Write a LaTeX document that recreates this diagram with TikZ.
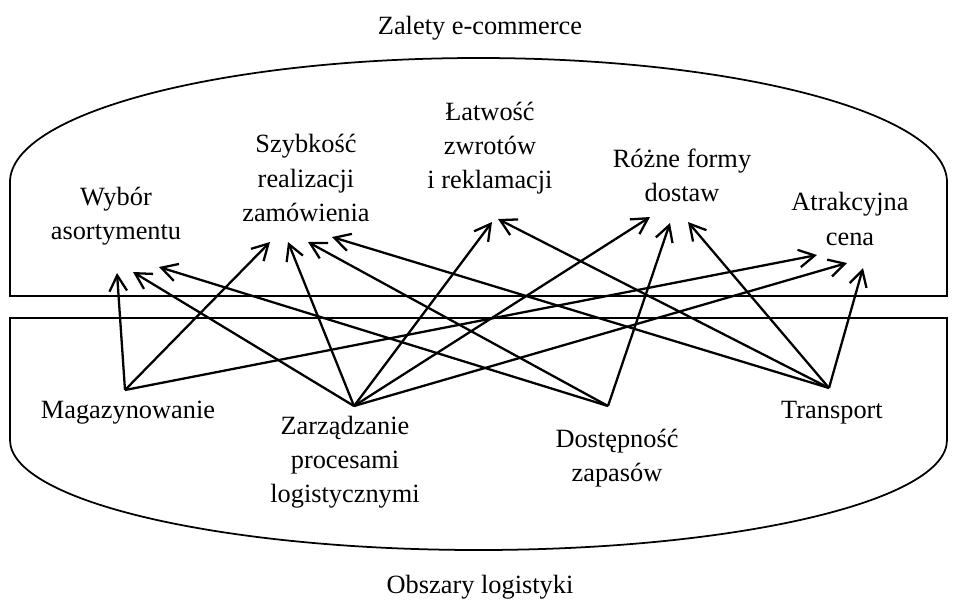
\documentclass[tikz,border=0pt]{standalone}
\usepackage{fontspec}
\setmainfont{Liberation Serif}
\newfontfamily\tnr{Liberation Serif}
\usetikzlibrary{arrows.meta}

\begin{document}
\begin{tikzpicture}[x=0.02cm,y=-0.02cm,
  arr/.style={-{Straight Barb[length=9pt,width=10pt]},line width=1.3pt},
  lab/.style={align=center,inner sep=0pt,font=\tnr\fontsize{15}{19.5}\selectfont},
  obrys/.style={line width=1pt}]
\useasboundingbox (0,0) rectangle (957,606);
% obszary
\draw[obrys] (10,296) -- (10,182) arc[start angle=180,end angle=360,x radius=468.5,y radius=124] -- (947,296) -- cycle;
\draw[obrys] (10,318) -- (10,440) arc[start angle=180,end angle=0,x radius=468.5,y radius=110] -- (947,318) -- cycle;
  \node[lab] (zalety) at (480,28) {Zalety e-commerce};
  \node[lab] (obszary) at (480,587) {Obszary logistyki};
% zalety
  \node[lab] (wybor) at (116,216) {Wybór\\asortymentu};
  \node[lab] (szybk) at (306,178) {Szybkość\\realizacji\\zamówienia};
  \node[lab] (latw) at (490,148) {Łatwość\\zwrotów\\i reklamacji};
  \node[lab] (rozne) at (682,175) {Różne formy\\dostaw};
  \node[lab] (atrak) at (850,219) {Atrakcyjna\\cena};
% logistyka
  \node[lab] (magaz) at (128,413) {Magazynowanie};
  \node[lab] (zarz) at (345,462) {Zarządzanie\\procesami\\logistycznymi};
  \node[lab] (dost) at (617,458) {Dostępność\\zapasów};
  \node[lab] (transp) at (832,413) {Transport};
  \coordinate (m) at (125,390);
  \coordinate (z) at (354,406);
  \coordinate (d) at (608,406);
  \coordinate (t) at (829,388);
% groty
  \coordinate (w1) at (117,273); \coordinate (w2) at (133,272); \coordinate (w3) at (159,267);
  \coordinate (s1) at (270,242); \coordinate (s2) at (288,242); \coordinate (s3) at (308,242); \coordinate (s4) at (332,237);
  \coordinate (l1) at (492,222); \coordinate (l2) at (498,219);
  \coordinate (r1) at (650,217); \coordinate (r2) at (670,223); \coordinate (r3) at (688,222);
  \coordinate (a1) at (817,255); \coordinate (a2) at (847,263); \coordinate (a3) at (863,268);
\foreach \s/\t in {m/w1,z/w2,d/w3,m/s1,z/s2,d/s3,t/s4,z/l1,t/l2,z/r1,d/r2,t/r3,m/a1,z/a2,t/a3}
  \draw[arr] (\s) -- (\t);
\end{tikzpicture}
\end{document}
